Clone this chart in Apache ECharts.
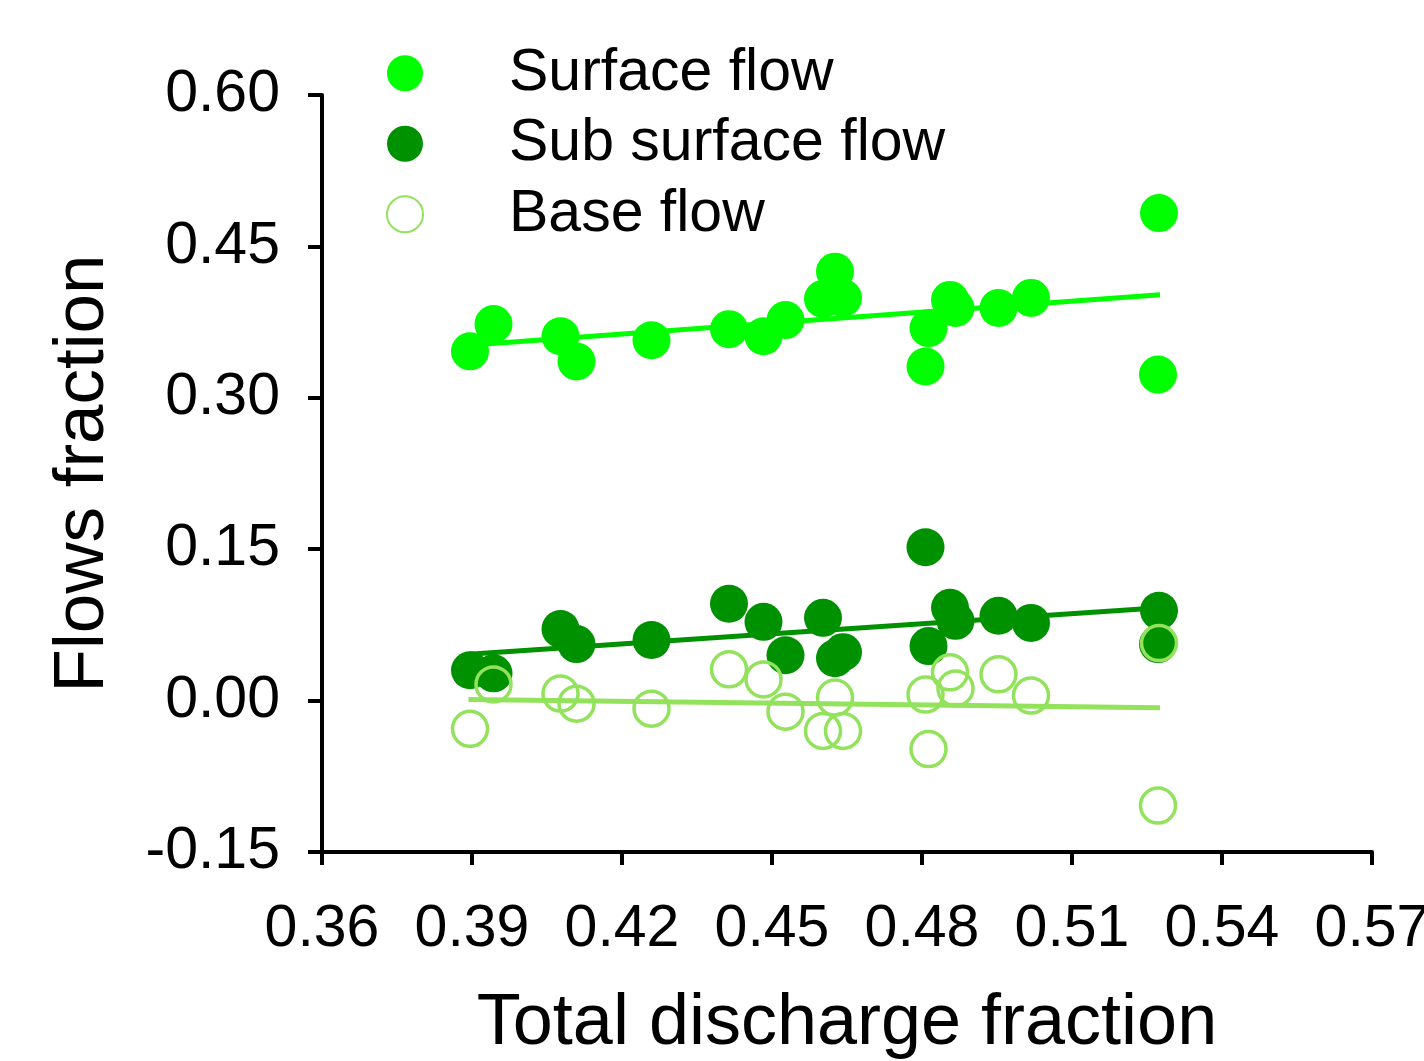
<!DOCTYPE html>
<html>
<head>
<meta charset="utf-8">
<script src="https://cdn.jsdelivr.net/npm/echarts@6/dist/echarts.min.js"></script>
<style>
  html, body { margin: 0; padding: 0; background: #fff; }
  #main { width: 1424px; height: 1061px; }
</style>
</head>
<body>
<div id="main"></div>
<script>
// station x values (total discharge fraction)
var xVals = [0.3896, 0.3943, 0.4077, 0.4109, 0.4259, 0.4414, 0.4483, 0.4527, 0.4602, 0.4626,
             0.4642, 0.4807, 0.4813, 0.4856, 0.4867, 0.4953, 0.5018, 0.5274, 0.5272];
var surfaceVals = [0.346, 0.373, 0.361, 0.336, 0.357, 0.368, 0.361, 0.377, 0.398, 0.425,
                   0.399, 0.331, 0.369, 0.397, 0.389, 0.389, 0.399, 0.483, 0.323];
var subVals = [0.030, 0.027, 0.071, 0.056, 0.060, 0.096, 0.078, 0.045, 0.082, 0.042,
               0.048, 0.152, 0.054, 0.092, 0.079, 0.084, 0.077, 0.089, 0.056];
var baseVals = [-0.028, 0.016, 0.007, -0.003, -0.008, 0.031, 0.021, -0.011, -0.030, 0.003,
                -0.030, 0.006, -0.048, 0.028, 0.012, 0.026, 0.005, 0.057, -0.104];
// fitted lines, end points
var fitX = [0.3893, 0.5276];
var surfaceFit = [0.352, 0.402];
var subFit = [0.046, 0.092];
var baseFit = [0.001, -0.007];

var names = ['Surface flow', 'Sub surface flow', 'Base flow'];
var colors = ['#00FF00', '#009100', '#92E25C'];
var font = 'Liberation Sans, Arial, sans-serif';

function pairs(xs, ys) {
    var out = [];
    for (var i = 0; i < xs.length; i++) out.push([xs[i], ys[i]]);
    return out;
}

var myChart = echarts.init(document.getElementById('main'));
var option = {
    animation: false,
    backgroundColor: '#fff',
    grid: {//绘图区
        left: 322,
        right: 52,
        top: 95,
        bottom: 209,
        outerBoundsMode: 'none',
        containLabel: false
    },
    legend: {
        data: names,
        orient: 'vertical',
        left: 381,
        top: 33,
        itemWidth: 36,
        itemHeight: 36,
        itemGap: 0,
        icon: 'circle',
        textStyle: {
            fontFamily: font,
            fontSize: 59,
            color: '#000',
            lineHeight: 70.5,
            padding: [0, 0, 0, 81]
        }
    },
    xAxis: {
        type: 'value',
        min: 0.36,
        max: 0.57,
        interval: 0.03,
        name: 'Total discharge fraction',
        nameLocation: 'middle',
        nameGap: 136,
        nameTextStyle: { fontFamily: font, fontSize: 72, color: '#000' },
        axisLine: { onZero: false, lineStyle: { color: '#000', width: 4 } },
        axisTick: { length: 13, lineStyle: { width: 4 } },
        axisLabel: {
            fontFamily: font, fontSize: 59, color: '#000', margin: 48,
            formatter: function (v) { return v.toFixed(2); }
        },
        splitLine: { show: false }
    },
    yAxis: {
        type: 'value',
        min: -0.15,
        max: 0.6,
        interval: 0.15,
        name: 'Flows fraction',
        nameLocation: 'middle',
        nameGap: 203,
        nameTextStyle: { fontFamily: font, fontSize: 71, color: '#000' },
        axisLine: { show: true, onZero: false, lineStyle: { color: '#000', width: 4 } },
        axisTick: { show: true, length: 14, lineStyle: { width: 4 } },
        axisLabel: {
            fontFamily: font, fontSize: 59, color: '#000', margin: 42,
            formatter: function (v) { return v.toFixed(2); }
        },
        splitLine: { show: false }
    },
    series: [{
        name: 'Surface fit',
        type: 'line',
        data: pairs(fitX, surfaceFit),
        showSymbol: false,
        lineStyle: { color: colors[0], width: 5 },
        z: 1
    }, {
        name: 'Sub fit',
        type: 'line',
        data: pairs(fitX, subFit),
        showSymbol: false,
        lineStyle: { color: colors[1], width: 5 },
        z: 1
    }, {
        name: 'Base fit',
        type: 'line',
        data: pairs(fitX, baseFit),
        showSymbol: false,
        lineStyle: { color: colors[2], width: 5 },
        z: 1
    }, {
        name: names[0],
        type: 'scatter',
        data: pairs(xVals, surfaceVals),
        symbolSize: 38,
        itemStyle: { color: colors[0], opacity: 1 },
        z: 2
    }, {
        name: names[1],
        type: 'scatter',
        data: pairs(xVals, subVals),
        symbolSize: 38,
        itemStyle: { color: colors[1], opacity: 1 },
        z: 2
    }, {
        name: names[2],
        type: 'scatter',
        data: pairs(xVals, baseVals),
        symbolSize: 35,
        itemStyle: { color: 'rgba(255,255,255,0)', borderColor: colors[2], borderWidth: 3.5, opacity: 1 },
        z: 3
    }]
};
myChart.setOption(option, true);
</script>
</body>
</html>
